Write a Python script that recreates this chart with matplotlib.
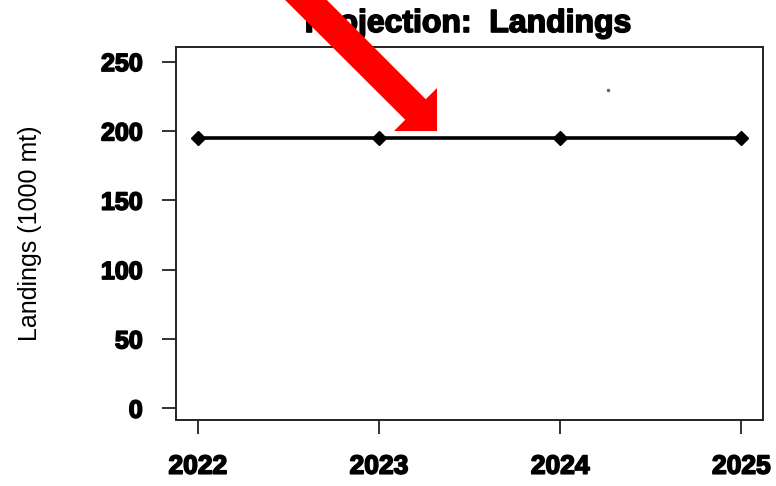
import matplotlib
matplotlib.use("Agg")
import matplotlib.pyplot as plt
import matplotlib.patheffects as pe
from matplotlib.patches import Polygon

years = [2022, 2023, 2024, 2025]
landings = [195, 195, 195, 195]
yticks = [0, 50, 100, 150, 200, 250]
title = "Projection:  Landings"
ylabel = "Landings (1000 mt)"

W, H = 776, 486
fig = plt.figure(figsize=(W / 100, H / 100), dpi=100)
plt.rcParams['font.family'] = ['Liberation Sans', 'DejaVu Sans']

def fx(px):
    return px / W

def fy(py):
    return 1 - py / H

heavy = [pe.withStroke(linewidth=1.2, foreground='black')]

left, right, top, bottom = 176, 763, 47, 420
ax = fig.add_axes([fx(left), fy(bottom), fx(right) - fx(left), (bottom - top) / H])

ax.plot(years, landings, color='black', lw=2.6, marker='D', ms=7, zorder=3)
ax.set_xlim(2021.88, 2025.12)
ax.set_ylim(-8.5, 260.5)
ax.set_xticks(years)
ax.set_xticklabels([str(y) for y in years], fontsize=19, fontweight='bold')
ax.set_yticks(yticks)
ax.set_yticklabels([str(v) for v in yticks], fontsize=18, fontweight='bold')
for lab in ax.get_xticklabels() + ax.get_yticklabels():
    lab.set_path_effects(heavy)
ax.tick_params(axis='both', length=10, width=1.3, color='#222222')
ax.tick_params(axis='x', pad=15)
ax.tick_params(axis='y', pad=14)
for s in ax.spines.values():
    s.set_linewidth(1.4)
    s.set_color('#222222')

fig.text(fx(468), fy(24), title, ha='center', va='center', fontsize=23,
         fontweight='bold', path_effects=heavy)
fig.text(fx(30), fy(233), ylabel, ha='center', va='center', rotation=90,
         fontsize=18)

# small speck
fig.add_artist(plt.Line2D([fx(608)], [fy(90)], marker='o', ms=1.5,
                          color='#666666', transform=fig.transFigure))

# red arrow
pts = [(286, -41), (425.75, 99.25), (437, 88), (437, 131), (394, 131),
       (405.25, 119.75), (265, -20)]
arrow = Polygon([(fx(x), fy(y)) for x, y in pts], closed=True,
                facecolor='#ff0000', edgecolor='none',
                transform=fig.transFigure, zorder=10)
fig.add_artist(arrow)

fig.savefig("out.png", dpi=100)
